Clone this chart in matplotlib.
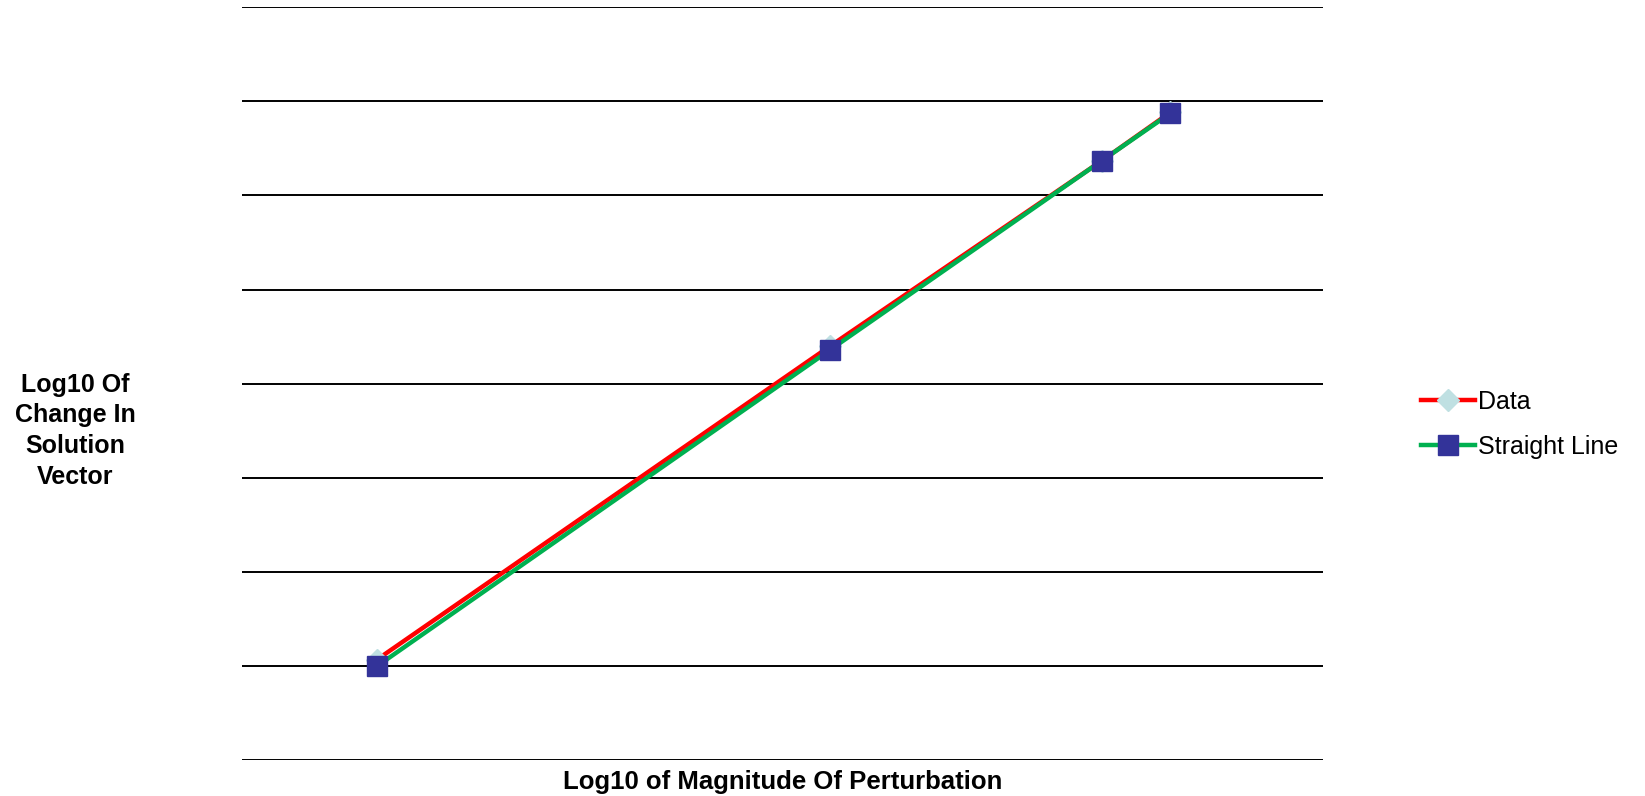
import matplotlib.pyplot as plt

plt.rcParams['font.family'] = ['Liberation Sans', 'DejaVu Sans']

# log10 of the perturbation size
log_perturbacion = [-7, -3, -0.6, 0]
# log10 of the change measured in the solution vector
log_cambio_datos = [-7.93, -4.60, -2.63, -2.12]
log_cambio_recta = [-8.0, -4.64, -2.63, -2.13]

fig = plt.figure(figsize=(16.45, 7.96), dpi=100)
ax = fig.add_axes([0.1471, 0.0446, 0.6572, 0.9466])

ax.plot(log_perturbacion, log_cambio_datos, color='#ff0000', linewidth=3.2,
        marker='D', markersize=11.5, markerfacecolor='#bfe0e2',
        markeredgecolor='#bfe0e2', label='Data', zorder=3)
ax.plot(log_perturbacion, log_cambio_recta, color='#00b050', linewidth=3.2,
        marker='s', markersize=14.5, markerfacecolor='#333399',
        markeredgecolor='#333399', label='Straight Line', zorder=4)

ax.set_xlim(-8.19, 1.35)
ax.set_ylim(-9, -1)
ax.set_yticks(range(-9, 0))
ax.set_xticks([])
ax.tick_params(left=False, labelleft=False)
ax.grid(True, axis='y', color='black', linewidth=1.4)
ax.set_axisbelow(True)
for lado in ax.spines.values():
    lado.set_visible(False)

ax.set_xlabel('Log10 of Magnitude Of Perturbation', fontsize=18.5,
              fontweight='bold', labelpad=7)
fig.text(0.0456, 0.459, 'Log10 Of\nChange In\nSolution\nVector',
         fontsize=18, fontweight='bold', ha='center', va='center',
         linespacing=1.35)

fig.legend(loc='center left', bbox_to_anchor=(0.858, 0.467), frameon=False,
           fontsize=18, handlelength=2.15, handletextpad=0.1,
           labelspacing=0.85, borderaxespad=0)

fig.savefig('out.png', dpi=100)
